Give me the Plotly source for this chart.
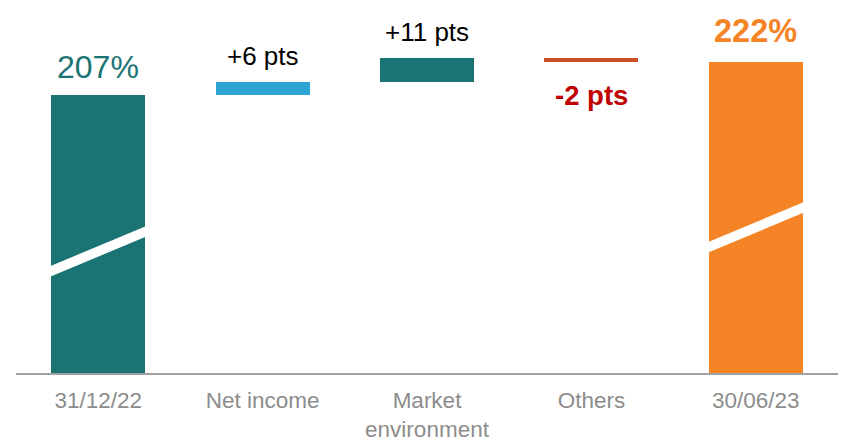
import plotly.graph_objects as go

# Solvency ratio bridge, 31/12/22 -> 30/06/23
categories = ["31/12/22", "Net income", "Market<br>environment", "Others", "30/06/23"]
start_ratio = 207
end_ratio = 222
changes = [6, 11, -2]          # movements in percentage points
labels = ["207%", "+6 pts", "+11 pts", "-2 pts", "222%"]

colors = ["#1B7474", "#2CA5D5", "#1B7474", "#CC4E24", "#F58426"]
label_colors = ["#1B7474", "#000000", "#000000", "#C00000", "#F58426"]
label_bold = [False, False, False, True, True]
label_sizes = [32, 26, 26, 27.5, 32.5]

# bar bases and lengths for the bridge
bases, lengths = [0], [start_ratio]
level = start_ratio
for c in changes:
    bases.append(level)
    lengths.append(c)
    level += c
bases.append(0)
lengths.append(end_ratio)

fig = go.Figure()
fig.add_trace(go.Bar(
    x=categories, y=lengths, base=bases,
    marker=dict(color=colors, line=dict(width=0)),
    width=0.572, hoverinfo="skip",
))

# value labels: totals and gains above the bar, losses below
for i, (cat, txt) in enumerate(zip(categories, labels)):
    top = bases[i] + max(lengths[i], 0)
    bottom = bases[i] + min(lengths[i], 0)
    below = lengths[i] < 0 and i not in (0, len(categories) - 1)
    shift = {0: 28, 4: 31}.get(i, 26)
    fig.add_annotation(
        x=cat, y=bottom if below else top,
        text=f"<b>{txt}</b>" if label_bold[i] else txt,
        showarrow=False, yanchor="middle",
        yshift=-33 if below else shift,
        font=dict(family="Liberation Sans, Arial", size=label_sizes[i], color=label_colors[i]),
    )

# white diagonal marks showing the truncated value axis on the total bars
break_centres = {0: 135.9, 4: 146.8}
break_rise = 18.7
break_half = 2.4
half_w = 0.30
for idx, mid in break_centres.items():
    yl = mid - break_rise / 2
    yr = mid + break_rise / 2
    path = (f"M {idx - half_w},{yl - break_half} L {idx + half_w},{yr - break_half} "
            f"L {idx + half_w},{yr + break_half} L {idx - half_w},{yl + break_half} Z")
    fig.add_shape(type="path", path=path, xref="x", yref="y",
                  fillcolor="white", line=dict(width=0), layer="above")

fig.update_layout(
    width=848, height=443,
    margin=dict(l=16, r=10, t=20, b=70, autoexpand=False),
    plot_bgcolor="white", paper_bgcolor="white",
    showlegend=False, bargap=0,
    font=dict(family="Liberation Sans, Arial"),
)
fig.update_xaxes(
    showline=True, linecolor="#A0A0A0", linewidth=1.5,
    showgrid=False, zeroline=False, ticks="",
    tickfont=dict(size=22.5, color="#8C8C8C"),
    ticklabelstandoff=6, automargin=False,
)
fig.update_yaxes(
    range=[80.6, 241.1], visible=False, showgrid=False, zeroline=False,
    automargin=False,
)

fig.write_html("out.html")
